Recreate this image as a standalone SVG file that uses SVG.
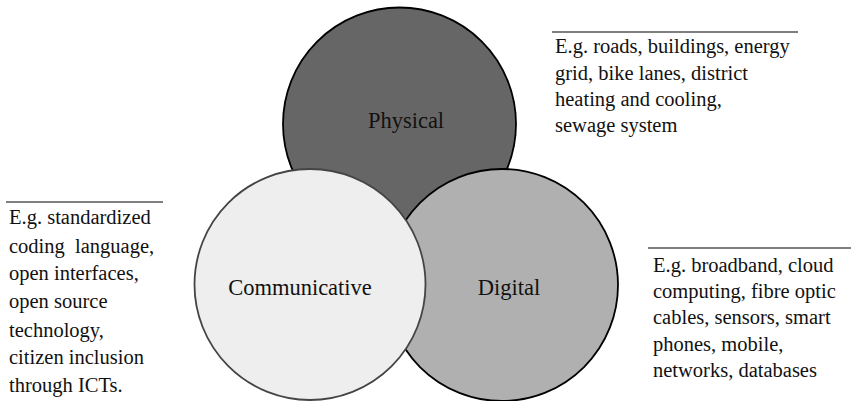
<svg xmlns="http://www.w3.org/2000/svg" width="851" height="401" viewBox="0 0 851 401">
<style>
.lbl{font-family:"Liberation Serif","DejaVu Serif",serif;font-size:22.5px;fill:#111;text-anchor:middle}
.note{font-family:"Liberation Serif","DejaVu Serif",serif;font-size:20.5px;fill:#111;white-space:pre}
.rule{stroke:#000;stroke-width:1.2}
</style>
<rect width="851" height="401" fill="#fff"/>
<g id="physical">
<circle cx="399.5" cy="124" r="116.5" fill="#666666" stroke="#000" stroke-width="1.8"/>
<text class="lbl" x="406" y="128">Physical</text>
</g>
<g id="digital">
<circle cx="502" cy="285" r="116" fill="#b0b0b0" stroke="#000" stroke-width="1.8"/>
<text class="lbl" x="509" y="295">Digital</text>
</g>
<g id="communicative">
<circle cx="310" cy="284.5" r="115.5" fill="#eeeeee" stroke="#444" stroke-width="1.8"/>
<text class="lbl" x="300" y="295">Communicative</text>
</g>
<g id="note-physical">
<line class="rule" x1="552" y1="32" x2="798" y2="32"/>
<text class="note" x="555" y="53">E.g. roads, buildings, energy</text>
<text class="note" x="555" y="80">grid, bike lanes, district</text>
<text class="note" x="555" y="106">heating and cooling,</text>
<text class="note" x="555" y="132">sewage system</text>
</g>
<g id="note-communicative">
<line class="rule" x1="6" y1="202" x2="163" y2="202"/>
<text class="note" x="9" y="224">E.g. standardized</text>
<text class="note" x="9" y="253" xml:space="preserve">coding  language,</text>
<text class="note" x="9" y="280">open interfaces,</text>
<text class="note" x="9" y="308">open source</text>
<text class="note" x="9" y="337">technology,</text>
<text class="note" x="9" y="364">citizen inclusion</text>
<text class="note" x="9" y="392">through ICTs.</text>
</g>
<g id="note-digital">
<line class="rule" x1="648" y1="248" x2="851" y2="248"/>
<text class="note" x="653" y="272">E.g. broadband, cloud</text>
<text class="note" x="653" y="298">computing, fibre optic</text>
<text class="note" x="653" y="324">cables, sensors, smart</text>
<text class="note" x="653" y="351">phones, mobile,</text>
<text class="note" x="653" y="377">networks, databases</text>
</g>
<g id="connectors"></g>
</svg>
